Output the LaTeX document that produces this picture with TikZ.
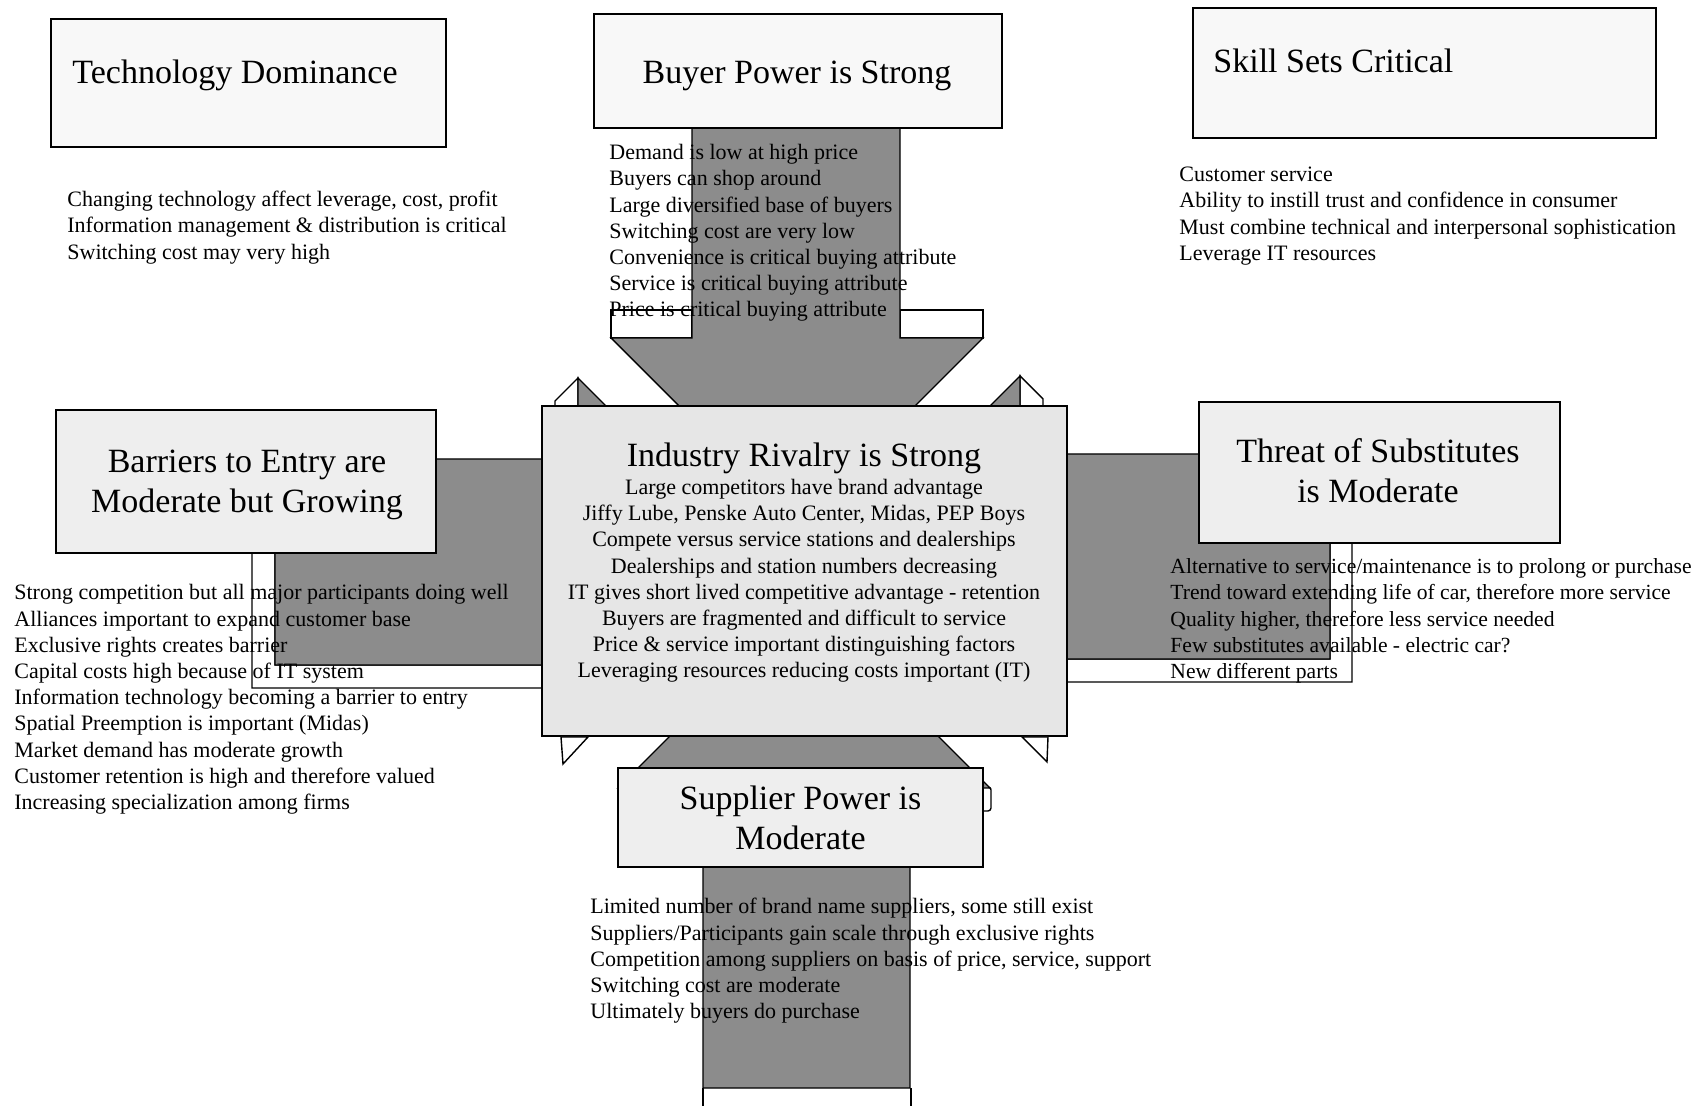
\documentclass[tikz,border=0pt]{standalone}
\usepackage{fontspec}
\setmainfont{Liberation Serif}
\definecolor{arrowfill}{RGB}{140,140,140}
\definecolor{boxfill}{RGB}{238,238,238}
\definecolor{centralfill}{RGB}{230,230,230}
\definecolor{lightfill}{RGB}{248,248,248}
\begin{document}
\begin{tikzpicture}[x=0.5pt,y=-0.5pt,
  box/.style={draw=black,line width=0.8pt,fill=boxfill,inner sep=0pt},
  arrowbody/.style={draw=black,line width=0.7pt,fill=arrowfill,line join=miter},
  face/.style={draw=black,line width=0.7pt,fill=white},
  title/.style={inner sep=0pt,align=center,font=\fontsize{17}{20}\selectfont},
  body/.style={inner sep=0pt,align=left,anchor=west,font=\fontsize{11}{13.1}\selectfont}]
\useasboundingbox (0,0) rectangle (1699,1106);
\fill[white] (0,0) rectangle (1699,1106);

% ---- left arrow (Barriers -> Rivalry)
\draw[face] (275,459) -- (252,482) -- (252,688) -- (560,688) -- (560,665) -- (275,665) -- cycle;
\draw[face] (578,378) -- (555,401) -- (555,482) -- (578,459) -- cycle;
\draw[arrowbody] (275,459) -- (578,459) -- (578,378) -- (762,562) -- (600,700) -- (578,700) -- (578,665) -- (275,665) -- cycle;

% ---- right arrow (Substitutes -> Rivalry)
\draw[face] (1330,454) -- (1352,476) -- (1352,682) -- (1040,682) -- (1040,659) -- (1330,659) -- cycle;
\draw[face] (1020,376) -- (1043,399) -- (1043,477) -- (1020,454) -- cycle;
\draw[arrowbody] (1330,454) -- (1020,454) -- (1020,376) -- (840,556) -- (1000,700) -- (1020,700) -- (1020,659) -- (1330,659) -- cycle;

% ---- top arrow (Buyer -> Rivalry)
\draw[face] (611,310) rectangle (692,338);
\draw[face] (900,310) rectangle (983,338);
\draw[arrowbody] (692,120) -- (900,120) -- (900,338) -- (983,338) -- (797,524) -- (611,338) -- (692,338) -- cycle;

% ---- bottom arrow (Supplier -> Rivalry)
\fill[white] (703,1088) rectangle (911,1106);
\draw[line width=0.7pt] (703,1088) -- (703,1106) (911,1088) -- (911,1106);
\draw[face,rounded corners=1.5pt] (970,787) rectangle (991,811);
\draw[arrowbody] (703,1088) -- (703,788) -- (618,788) -- (804,602) -- (990,788) -- (910,788) -- (910,1088) -- cycle;

% ---- central box
\node[box,fill=centralfill,minimum width=262.5pt,minimum height=165pt] (rivalry) at (804.5,571) {};
\node[title] (rivtitle) at (804,458) {Industry Rivalry is Strong};
\node[body,anchor=center,align=center] (rivtext) at (804,581) {Large competitors have brand advantage\\
Jiffy Lube, Penske Auto Center, Midas, PEP Boys\\
Compete versus service stations and dealerships\\
Dealerships and station numbers decreasing\\
IT gives short lived competitive advantage - retention\\
Buyers are fragmented and difficult to service\\
Price \& service important distinguishing factors\\
Leveraging resources reducing costs important (IT)};

% small 3D faces below central box
\draw[face] (561,737) -- (588,737) -- (563,764) -- cycle;
\draw[face] (1022,737) -- (1048,737) -- (1047,762) -- cycle;

% ---- outer boxes
\node[box,fill=lightfill,minimum width=197.5pt,minimum height=64pt] (tech) at (248.5,83) {};
\node[title,anchor=west] (techtitle) at (72,75) {Technology Dominance};

\node[box,fill=lightfill,minimum width=231.5pt,minimum height=65pt] (skill) at (1424.5,73) {};
\node[title,anchor=west] (skilltitle) at (1213,61) {Skill Sets Critical};

\node[box,fill=lightfill,minimum width=204pt,minimum height=57pt] (buyer) at (798,71) {};
\node[title] (buyertitle) at (797,75.5) {Buyer Power is Strong};

\node[box,minimum width=190pt,minimum height=71.5pt] (barriers) at (246,481.5) {};
\node[title] (barrierstitle) at (247,485) {Barriers to Entry are\\Moderate but Growing};

\node[box,minimum width=180.5pt,minimum height=70.5pt] (threat) at (1379.5,472.5) {};
\node[title] (threattitle) at (1378,470.5) {Threat of Substitutes\\is Moderate};

\node[box,minimum width=182.5pt,minimum height=49.5pt] (supplier) at (800.5,817.5) {};
\node[title] (suppliertitle) at (800.5,818) {Supplier Power is\\Moderate};

% ---- text lists
\node[body] (techtext) at (67,227.5) {Changing technology affect leverage, cost, profit\\
Information management \& distribution is critical\\
Switching cost may very high};

\node[body] (buyertext) at (609,233) {Demand is low at high price\\
Buyers can shop around\\
Large diversified base of buyers\\
Switching cost are very low\\
Convenience is critical buying attribute\\
Service is critical buying attribute\\
Price is critical buying attribute};

\node[body] (skilltext) at (1179,216) {Customer service\\
Ability to instill trust and confidence in consumer\\
Must combine technical and interpersonal sophistication\\
Leverage IT resources};

\node[body] (barrierstext) at (14,699.5) {Strong competition but all major participants doing well\\
Alliances important to expand customer base\\
Exclusive rights creates barrier\\
Capital costs high because of IT system\\
Information technology becoming a barrier to entry\\
Spatial Preemption is important (Midas)\\
Market demand has moderate growth\\
Customer retention is high and therefore valued\\
Increasing specialization among firms};

\node[body,font=\fontsize{10.8}{13.1}\selectfont] (threattext) at (1170,621) {Alternative to service/maintenance is to prolong or purchase\\
Trend toward extending life of car, therefore more service\\
Quality higher, therefore less service needed\\
Few substitutes available - electric car?\\
New different parts};

\node[body] (suppliertext) at (590,961) {Limited number of brand name suppliers, some still exist\\
Suppliers/Participants gain scale through exclusive rights\\
Competition among suppliers on basis of price, service, support\\
Switching cost are moderate\\
Ultimately buyers do purchase};
\end{tikzpicture}
\end{document}
